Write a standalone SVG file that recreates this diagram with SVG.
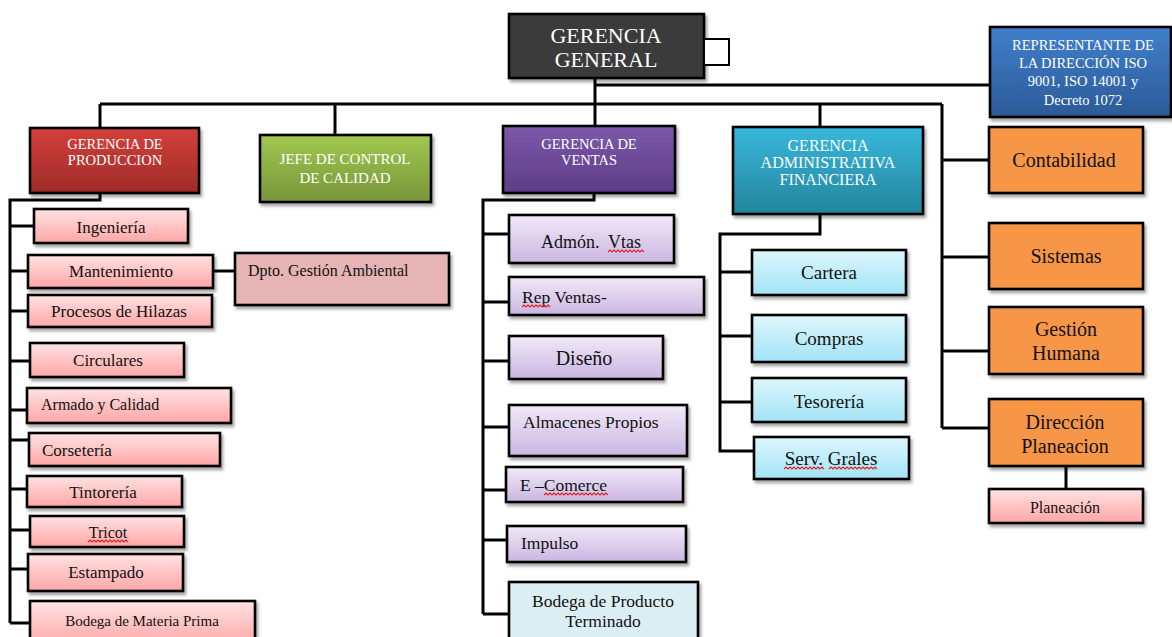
<svg xmlns="http://www.w3.org/2000/svg" width="1172" height="637" viewBox="0 0 1172 637" font-family="'Liberation Serif', 'Times New Roman', serif">
<defs>
<linearGradient id="gRed" x1="0" y1="0" x2="0" y2="1"><stop offset="0" stop-color="#d4403b"/><stop offset="1" stop-color="#9e2b28"/></linearGradient>
<linearGradient id="gGreen" x1="0" y1="0" x2="0" y2="1"><stop offset="0" stop-color="#a2c84e"/><stop offset="1" stop-color="#76953a"/></linearGradient>
<linearGradient id="gPurple" x1="0" y1="0" x2="0" y2="1"><stop offset="0" stop-color="#7e58ab"/><stop offset="1" stop-color="#5c3d86"/></linearGradient>
<linearGradient id="gCyan" x1="0" y1="0" x2="0" y2="1"><stop offset="0" stop-color="#37b8dc"/><stop offset="1" stop-color="#24849c"/></linearGradient>
<linearGradient id="gBlue" x1="0" y1="0" x2="0" y2="1"><stop offset="0" stop-color="#3f80cc"/><stop offset="1" stop-color="#2c5a97"/></linearGradient>
<linearGradient id="gPink" x1="0" y1="0" x2="0" y2="1"><stop offset="0" stop-color="#ffe2e2"/><stop offset="1" stop-color="#ffa6a6"/></linearGradient>
<linearGradient id="gLilac" x1="0" y1="0" x2="0" y2="1"><stop offset="0" stop-color="#f1e9f8"/><stop offset="1" stop-color="#cab6e1"/></linearGradient>
<linearGradient id="gSky" x1="0" y1="0" x2="0" y2="1"><stop offset="0" stop-color="#def7fd"/><stop offset="1" stop-color="#a2e3f6"/></linearGradient>
<filter id="sh" x="-10%" y="-10%" width="130%" height="140%"><feDropShadow dx="2" dy="3" stdDeviation="1.5" flood-color="#000" flood-opacity="0.35"/></filter>
</defs>
<style>
.box{stroke:#000;stroke-width:2.6;filter:url(#sh)}
.gg{fill:#3b3b3b}.red{fill:url(#gRed)}.green{fill:url(#gGreen)}.purple{fill:url(#gPurple)}.cyan{fill:url(#gCyan)}.blue{fill:url(#gBlue)}
.pink{fill:url(#gPink)}.lilac{fill:url(#gLilac)}.sky{fill:url(#gSky)}.orange{fill:#f79646}.dusty{fill:#e6b4b4}.pale{fill:#dbeef3}
text{font-family:"Liberation Serif","Times New Roman",serif}
.w{fill:#fff}.k{fill:#111}
.c{text-anchor:middle}
.f14{font-size:14.5px}.f15{font-size:15px}.f16{font-size:16px}.f17{font-size:17px}.f175{font-size:17.5px}.f18{font-size:18px}.f19{font-size:19px}.f20{font-size:20px}.f21{font-size:22px}
.ln{fill:none;stroke:#000;stroke-width:3}
.sq{fill:none;stroke:#e02020;stroke-width:1.1}
</style>

<g id="connectors" class="ln">
<path d="M595 78 V127"/>
<path d="M595 85 H990"/>
<path d="M100 104 H942"/>
<path d="M100 104 V128"/>
<path d="M335 104 V135"/>
<path d="M820 104 V127"/>
<path d="M942 104 V428"/>
<path d="M942 160 H989 M942 257 H989 M942 351 H989 M942 428 H989"/>
<path d="M1066 466 V489"/>
<path d="M100 193 V200 H10 V623"/>
<path d="M10 226 H34 M10 271 H28 M10 311 H28 M10 361 H30 M10 410 H27 M10 440 H29 M10 489 H27 M10 530 H30 M10 569 H28 M10 623 H30"/>
<path d="M213 271 H235"/>
<path d="M594 193 V200 H483 V614"/>
<path d="M483 234 H509 M483 302 H509 M483 361 H509 M483 427 H509 M483 490 H506 M483 540 H507 M483 614 H509"/>
<path d="M820 214 V234 H720 V451 H754"/>
<path d="M720 272 H752 M720 336 H752 M720 402 H752"/>
</g>

<g id="gerencia-general">
<rect class="box gg" x="509" y="14" width="195" height="64"/>
<text class="w c f21" x="606" y="43">GERENCIA</text>
<text class="w c f21" x="606" y="67">GENERAL</text>
</g>
<g id="cuadro">
<rect x="704" y="39" width="25" height="26" fill="#fff" stroke="#000" stroke-width="2"/>
</g>

<g id="representante">
<rect class="box blue" x="990" y="27" width="181" height="90"/>
<text class="w c f14" x="1083" y="50">REPRESENTANTE DE</text>
<text class="w c f14" x="1083" y="68">LA DIRECCIÓN ISO</text>
<text class="w c f14" x="1083" y="86">9001, ISO 14001 y</text>
<text class="w c f14" x="1083" y="105">Decreto 1072</text>
</g>

<g id="gerencia-produccion">
<rect class="box red" x="30" y="128" width="169" height="65"/>
<text class="w c f14" x="115" y="149">GERENCIA DE</text>
<text class="w c f14" x="115" y="165">PRODUCCION</text>
</g>
<g id="jefe-calidad">
<rect class="box green" x="260" y="135" width="171" height="67"/>
<text class="w c f15" x="345" y="164">JEFE DE CONTROL</text>
<text class="w c f15" x="345" y="183">DE CALIDAD</text>
</g>
<g id="gerencia-ventas">
<rect class="box purple" x="503" y="126" width="172" height="67"/>
<text class="w c f14" x="589" y="149">GERENCIA DE</text>
<text class="w c f14" x="589" y="165">VENTAS</text>
</g>
<g id="gerencia-administrativa">
<rect class="box cyan" x="733" y="127" width="190" height="87"/>
<text class="w c f16" x="828" y="151">GERENCIA</text>
<text class="w c f16" x="828" y="168">ADMINISTRATIVA</text>
<text class="w c f16" x="828" y="185">FINANCIERA</text>
</g>

<g id="contabilidad"><rect class="box orange" x="989" y="127" width="154" height="66"/><text class="k c f20" x="1064" y="167">Contabilidad</text></g>
<g id="sistemas"><rect class="box orange" x="989" y="223" width="154" height="66"/><text class="k c f20" x="1066" y="263">Sistemas</text></g>
<g id="gestion-humana"><rect class="box orange" x="989" y="307" width="154" height="67"/><text class="k c f20" x="1066" y="336">Gestión</text><text class="k c f20" x="1066" y="360">Humana</text></g>
<g id="direccion-planeacion"><rect class="box orange" x="989" y="399" width="154" height="67"/><text class="k c f20" x="1065" y="429">Dirección</text><text class="k c f20" x="1065" y="453">Planeacion</text></g>
<g id="planeacion"><rect class="box pink" x="989" y="489" width="154" height="34"/><text class="k c f16" x="1065" y="513">Planeación</text></g>

<g id="ingenieria"><rect class="box pink" x="34" y="209" width="154" height="34"/><text class="k c f17" x="111" y="233">Ingeniería</text></g>
<g id="mantenimiento"><rect class="box pink" x="28" y="255" width="185" height="33"/><text class="k c f17" x="121" y="277">Mantenimiento</text></g>
<g id="procesos-hilazas"><rect class="box pink" x="28" y="295" width="184" height="32"/><text class="k c f17" x="119" y="317">Procesos de Hilazas</text></g>
<g id="circulares"><rect class="box pink" x="30" y="343" width="154" height="34"/><text class="k c f17" x="108" y="366">Circulares</text></g>
<g id="armado-calidad"><rect class="box pink" x="27" y="388" width="204" height="35"/><text class="k f16" x="41" y="410">Armado y Calidad</text></g>
<g id="corseteria"><rect class="box pink" x="29" y="433" width="191" height="33"/><text class="k f17" x="42" y="456">Corsetería</text></g>
<g id="tintoreria"><rect class="box pink" x="27" y="476" width="155" height="31"/><text class="k c f17" x="103" y="498">Tintorería</text></g>
<g id="tricot"><rect class="box pink" x="30" y="516" width="154" height="31"/><text class="k c f16" x="108" y="538">Tricot</text><path class="sq" d="M88 542 l2 -2 l2 2 l2 -2 l2 2 l2 -2 l2 2 l2 -2 l2 2 l2 -2 l2 2 l2 -2 l2 2 l2 -2 l2 2 l2 -2 l2 2 l2 -2 l2 2 l2 -2 l2 2"/></g>
<g id="estampado"><rect class="box pink" x="28" y="554" width="155" height="37"/><text class="k c f17" x="106" y="578">Estampado</text></g>
<g id="bodega-materia-prima"><rect class="box pink" x="30" y="601" width="225" height="45"/><text class="k c f15" x="142" y="626">Bodega de Materia Prima</text></g>
<g id="gestion-ambiental"><rect class="box dusty" x="235" y="253" width="214" height="52"/><text class="k f16" x="248" y="276">Dpto. Gestión Ambiental</text></g>

<g id="admon-vtas"><rect class="box lilac" x="509" y="215" width="165" height="48"/><text class="k c f18" x="591" y="248" xml:space="preserve">Admón.  Vtas</text><path class="sq" d="M608 252 l2 -2 l2 2 l2 -2 l2 2 l2 -2 l2 2 l2 -2 l2 2 l2 -2 l2 2 l2 -2 l2 2 l2 -2 l2 2 l2 -2 l2 2 l2 -2 l2 2"/></g>
<g id="rep-ventas"><rect class="box lilac" x="509" y="277" width="195" height="38"/><text class="k f175" x="522" y="303">Rep Ventas-</text><path class="sq" d="M522 307 l2 -2 l2 2 l2 -2 l2 2 l2 -2 l2 2 l2 -2 l2 2 l2 -2 l2 2 l2 -2 l2 2 l2 -2 l2 2"/></g>
<g id="diseno"><rect class="box lilac" x="509" y="336" width="154" height="43"/><text class="k c f20" x="584" y="365">Diseño</text></g>
<g id="almacenes-propios"><rect class="box lilac" x="509" y="405" width="178" height="51"/><text class="k f175" x="523" y="428">Almacenes Propios</text></g>
<g id="e-comerce"><rect class="box lilac" x="506" y="467" width="177" height="35"/><text class="k f175" x="520" y="491">E –Comerce</text><path class="sq" d="M544 495 l2 -2 l2 2 l2 -2 l2 2 l2 -2 l2 2 l2 -2 l2 2 l2 -2 l2 2 l2 -2 l2 2 l2 -2 l2 2 l2 -2 l2 2 l2 -2 l2 2 l2 -2 l2 2 l2 -2 l2 2 l2 -2 l2 2 l2 -2 l2 2 l2 -2 l2 2 l2 -2 l2 2 l2 -2 l2 2"/></g>
<g id="impulso"><rect class="box lilac" x="507" y="526" width="179" height="36"/><text class="k f175" x="521" y="549">Impulso</text></g>
<g id="bodega-producto-terminado"><rect class="box pale" x="509" y="582" width="189" height="62"/><text class="k c f175" x="603" y="607">Bodega de Producto</text><text class="k c f175" x="603" y="627">Terminado</text></g>

<g id="cartera"><rect class="box sky" x="752" y="250" width="154" height="45"/><text class="k c f19" x="829" y="279">Cartera</text></g>
<g id="compras"><rect class="box sky" x="752" y="315" width="154" height="47"/><text class="k c f19" x="829" y="345">Compras</text></g>
<g id="tesoreria"><rect class="box sky" x="752" y="378" width="154" height="44"/><text class="k c f19" x="829" y="408">Tesorería</text></g>
<g id="serv-grales"><rect class="box sky" x="754" y="437" width="155" height="42"/><text class="k c f19" x="831" y="465">Serv. Grales</text><path class="sq" d="M784 469 l2 -2 l2 2 l2 -2 l2 2 l2 -2 l2 2 l2 -2 l2 2 l2 -2 l2 2 l2 -2 l2 2 l2 -2 l2 2 l2 -2 l2 2 l2 -2 l2 2 l2 -2 l2 2 M829 469 l2 -2 l2 2 l2 -2 l2 2 l2 -2 l2 2 l2 -2 l2 2 l2 -2 l2 2 l2 -2 l2 2 l2 -2 l2 2 l2 -2 l2 2 l2 -2 l2 2 l2 -2 l2 2 l2 -2 l2 2 l2 -2 l2 2"/></g>
</svg>
